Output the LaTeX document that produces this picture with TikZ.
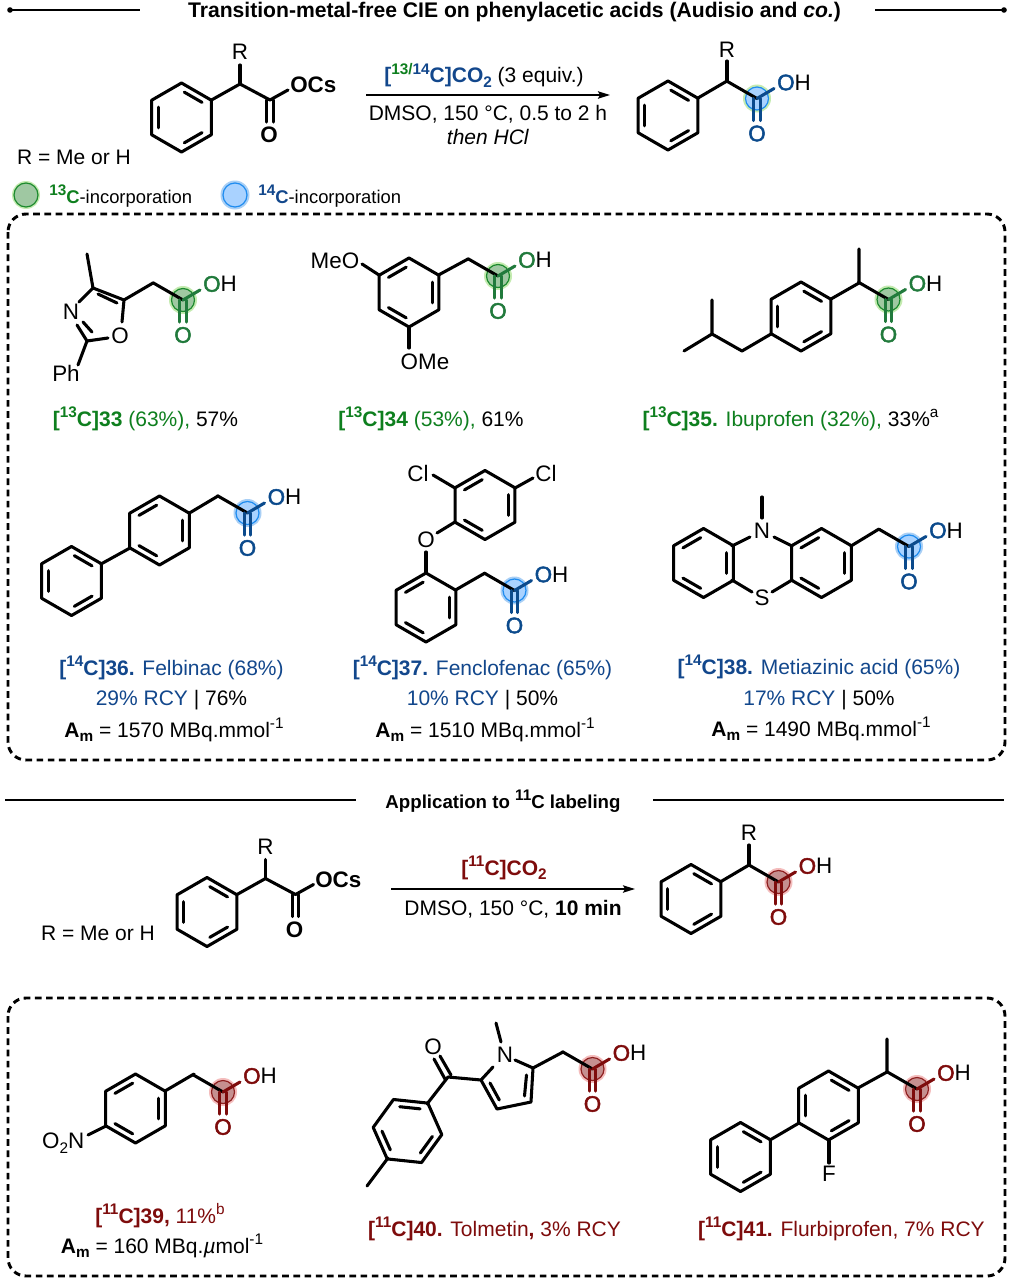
\documentclass[tikz,border=0pt]{standalone}
\usepackage{fontspec}
\setmainfont{Liberation Sans}
\newfontfamily\semib[FakeBold=2.2]{Liberation Sans}
\usetikzlibrary{arrows.meta}
\definecolor{atomG}{HTML}{217A3C}
\definecolor{atomB}{HTML}{0B4A8C}
\definecolor{atomR}{HTML}{7E0C0C}
\definecolor{haloG}{HTML}{C4EBB0}
\definecolor{haloB}{HTML}{A9CFF5}
\definecolor{haloR}{HTML}{F4BDBD}
\definecolor{fillG}{HTML}{9FC8A2}
\definecolor{fillB}{HTML}{A9D2FF}
\definecolor{fillR}{HTML}{C59090}
\definecolor{edgeG}{HTML}{1C8A2E}
\definecolor{edgeB}{HTML}{1E8CF0}
\definecolor{edgeR}{HTML}{8E2020}
\definecolor{textG}{HTML}{0E7F1E}
\definecolor{textB}{HTML}{12478C}
\definecolor{textR}{HTML}{7E0C0C}
\newcommand\up[1]{\raisebox{.42em}{\fontsize{11.5}{12}\selectfont #1}}
\newcommand\dn[1]{\raisebox{-.2em}{\fontsize{11.5}{12}\selectfont #1}}
\tikzset{
  bond/.style={line width=2.3pt,line cap=round,line join=round},
  atom/.style={inner sep=0pt,font=\fontsize{16.8}{18}\selectfont},
  atomb/.style={inner sep=0pt,font=\fontsize{16.8}{18}\selectfont\bfseries},
  txt/.style={inner sep=0pt,anchor=base,font=\fontsize{15.75}{18}\selectfont},
  head/.style={inner sep=0pt,anchor=base,font=\fontsize{15.85}{18}\selectfont\bfseries},
  rule/.style={line width=2.2pt},
  dashbox/.style={line width=2.2pt,dash pattern=on 5pt off 3.4pt,rounded corners=13.5pt},
  rxn/.style={line width=1.3pt,-{Stealth[length=9pt,width=5.5pt,inset=1.5pt]}}
}
% ring: [rotation] centre x, y, start angles of the edges with an inner line
\newcommand\ring[4][0]{%
  \draw[bond] ({#2+34.5*cos(#1+30)},{#3+34.5*sin(#1+30)})
    foreach \k in {90,150,210,270,330} { -- ({#2+34.5*cos(#1+\k)},{#3+34.5*sin(#1+\k)}) } -- cycle;
  \foreach \a in {#4}
    \draw[bond] ({#2+25.5*cos(\a+6.3)},{#3+25.5*sin(\a+6.3)}) -- ({#2+25.5*cos(\a+53.7)},{#3+25.5*sin(\a+53.7)});
}
% acid group: [halo colour] name, carboxyl C x, y, colour key
\newcommand\acid[5][]{%
  \ifx\relax#1\relax\def\halocol{halo#5}\else\def\halocol{#1}\fi
  \fill[\halocol] (#3,#4) circle[radius=14];
  \draw[fill=fill#5,draw=edge#5,line width=.9pt] (#3,#4) circle[radius=11.5];
  \draw[bond] (#3-30,#4-17.25) -- (#3,#4);
  \draw[bond,atom#5] (#3,#4) -- (#3+17,#4-10);
  \draw[bond,atom#5] (#3-3.2,#4) -- (#3-3.2,#4+22);
  \draw[bond,atom#5] (#3+3.2,#4) -- (#3+3.2,#4+22);
  \node[atom,text=atom#5] (#2o) at (#3,#4+35) {\semib O};
  \node[atom,anchor=center] (#2oh) at (#3+37,#4-16) {\textcolor{atom#5}{\semib O}H};
}
\begin{document}
\begin{tikzpicture}[x=0.75pt,y=-0.75pt]
\useasboundingbox (0,0) rectangle (1014,1281);
\fill[white] (0,0) rectangle (1014,1281);
% headings
\draw[rule] (10,10) -- (140,10);
\fill (10,10) circle[radius=2.8];
\draw[rule] (875,10) -- (1004,10);
\fill (1004,10) circle[radius=2.8];
\node[head] (title) at (514.5,17.5) {Transition-metal-free CIE on phenylacetic acids (Audisio and \textit{co.})};
\draw[rule] (5,800) -- (356,800);
\draw[rule] (653,800) -- (1004,800);
\node[head,font=\fontsize{14}{16}\selectfont\bfseries] (title2) at (503,808) {Application to \up{11}C labeling};
% boxes
\draw[dashbox] (8,214) rectangle (1005,760);
\draw[dashbox] (8,998) rectangle (1005,1276);
% reaction 1
\ring{181.5}{117.5}{-90,150,30}
\draw[bond] (211.5,100) -- (240,84) -- (270,100) -- (288,90);
\draw[bond] (240,84) -- (240,65);
\draw[bond] (266.7,100) -- (266.7,122);
\draw[bond] (273.3,100) -- (273.3,122);
\node[atom] (r1) at (240,52) {R};
\node[atomb] (o1) at (269,135) {O};
\node[atomb,anchor=west] (ocs1) at (290,85) {OCs};
\node[txt] (rme1) at (74,164) {R = Me or H};
\draw[rxn] (366,95) -- (610,95);
\node[txt] (cond1a) at (484,83) {\textbf{\textcolor{textB}{[}\textcolor{textG}{\up{13/}}\textcolor{textB}{\up{14}C]CO\dn{2}}} (3 equiv.)};
\node[txt] (cond1b) at (488,120) {DMSO, 150 °C, 0.5 to 2 h};
\node[txt] (cond1c) at (488,144) {\textit{then HCl}};
\ring{668}{115.5}{-90,150,30}
\draw[bond] (698,98) -- (727,81);
\draw[bond] (727,81) -- (727,61);
\node[atom] (r2) at (727,50) {R};
\acid[haloG]{p1}{757}{98.5}{B}
% legend
\fill[haloG] (26,195) circle[radius=14];
\draw[fill=fillG,draw=edgeG,line width=.9pt] (26,195) circle[radius=12];
\fill[haloB] (235,195) circle[radius=14.5];
\draw[fill=fillB,draw=edgeB,line width=.9pt] (235,195) circle[radius=12];
\node[txt,anchor=base west,font=\fontsize{13.8}{16}\selectfont] (leg1) at (49,203) {\textbf{\textcolor{textG}{\up{13}C}}-incorporation};
\node[txt,anchor=base west,font=\fontsize{13.8}{16}\selectfont] (leg2) at (258,203) {\textbf{\textcolor{textB}{\up{14}C}}-incorporation};
% 33
\draw[bond] (124,300) -- (93,288) -- (79,302);
\draw[bond] (98,294) -- (117,303);
\draw[bond] (77,325) -- (87,341) -- (108,338);
\draw[bond] (83,322) -- (92,332);
\draw[bond] (122,322) -- (124,300) -- (153,283);
\draw[bond] (93,288) -- (87,254);
\draw[bond] (87,341) -- (78,365);
\node[atom] (n33) at (71,312) {N};
\node[atom] (o33) at (120,336) {O};
\node[atom] (ph33) at (66,373) {Ph};
\acid{a33}{183}{300}{G}
\node[txt] (l33) at (145.5,426.5) {\textcolor{textG}{\textbf{[\up{13}C]33} (63\%),} 57\%};
% 34
\ring{409}{292.5}{210,-30,90}
\draw[bond] (379,275) -- (362,264);
\draw[bond] (409,327) -- (409,348);
\draw[bond] (438.5,275) -- (468,259);
\node[atom,anchor=east] (meo34) at (359.5,261) {MeO};
\node[atom] (ome34) at (425,362) {OMe};
\acid{a34}{498}{276}{G}
\node[txt] (l34) at (431,426.5) {\textcolor{textG}{\textbf{[\up{13}C]34} (53\%),} 61\%};
% 35
\ring{801}{316.5}{-90,150,30}
\draw[bond] (831,299) -- (859,283) -- (859,249);
\draw[bond] (771,334) -- (742,351) -- (712,334) -- (712,300);
\draw[bond] (712,334) -- (684,351);
\acid{a35}{888.5}{299.5}{G}
\node[txt] (l35) at (790.5,426.5) {\textcolor{textG}{\textbf{[\up{13}C]35.} Ibuprofen (32\%),} 33\%\up{a}};
% 36
\ring{71.5}{581}{-90,150,30}
\ring{159.5}{530.5}{210,-30,90}
\draw[bond] (101,564) -- (130,548);
\draw[bond] (189.5,513) -- (218,496);
\acid{a36}{247.5}{513}{B}
\node[txt] (l36a) at (171.5,675.5) {\textcolor{textB}{\textbf{[\up{14}C]36.} Felbinac (68\%)}};
\node[txt] (l36b) at (171.5,705.5) {\textcolor{textB}{29\% RCY} | 76\%};
\node[txt] (l36c) at (174,737) {\textbf{A\dn{m}} = 1570 MBq.mmol\up{-1}};
% 37
\ring{485}{505}{210,-30,90}
\ring{426}{607.5}{210,-30,90}
\draw[bond] (455,488) -- (433,475);
\draw[bond] (515,488) -- (533,478);
\draw[bond] (455,522) -- (437,533);
\draw[bond] (426,552) -- (426,573);
\draw[bond] (455.5,590) -- (485,573);
\node[atom] (cl37a) at (418,473) {Cl};
\node[atom] (cl37b) at (546,473) {Cl};
\node[atom] (o37) at (426,540) {O};
\acid{a37}{514.5}{590.5}{B}
\node[txt] (l37a) at (482.5,675.5) {\textcolor{textB}{\textbf{[\up{14}C]37.} Fenclofenac (65\%)}};
\node[txt] (l37b) at (482.5,705.5) {\textcolor{textB}{10\% RCY} | 50\%};
\node[txt] (l37c) at (485,737) {\textbf{A\dn{m}} = 1510 MBq.mmol\up{-1}};
% 38
\ring{703.5}{563}{210,-30,90}
\ring{821.5}{563}{210,-30,90}
\draw[bond] (762,497) -- (762,518);
\draw[bond] (732,546) -- (750,537);
\draw[bond] (774,537) -- (792,546);
\draw[bond] (732,580) -- (752,592);
\draw[bond] (772,592) -- (792,580);
\draw[bond] (851,546) -- (879,529);
\node[atom] (n38) at (762,531) {N};
\node[atom] (s38) at (762,598) {S};
\acid{a38}{909}{546.5}{B}
\node[txt] (l38a) at (819,674) {\textcolor{textB}{\textbf{[\up{14}C]38.} Metiazinic acid (65\%)}};
\node[txt] (l38b) at (819,705) {\textcolor{textB}{17\% RCY} | 50\%};
\node[txt] (l38c) at (821,736) {\textbf{A\dn{m}} = 1490 MBq.mmol\up{-1}};
% reaction 2
\ring{207}{912}{-90,150,30}
\draw[bond] (237,894.5) -- (265.5,878.5) -- (295.5,894.5) -- (313.5,884.5);
\draw[bond] (265.5,878.5) -- (265.5,859.5);
\draw[bond] (292.2,894.5) -- (292.2,916.5);
\draw[bond] (298.8,894.5) -- (298.8,916.5);
\node[atom] (r3) at (265.5,846.5) {R};
\node[atomb] (o3) at (294.5,929.5) {O};
\node[atomb,anchor=west] (ocs3) at (315,879.5) {OCs};
\node[txt] (rme3) at (98,940) {R = Me or H};
\draw[rxn] (391,889) -- (635,889);
\node[txt] (cond2a) at (504,875) {\textbf{\textcolor{textR}{[\up{11}C]CO\dn{2}}}};
\node[txt] (cond2b) at (513,915) {DMSO, 150 °C, \textbf{10 min}};
\ring{691}{899}{-90,150,30}
\draw[bond] (721,881.5) -- (749,865);
\draw[bond] (749,865) -- (749,845);
\node[atom] (r4) at (749,833) {R};
\acid{p2}{778.5}{882}{R}
% 39
\ring{135.5}{1108.5}{210,-30,90}
\draw[bond] (106,1126) -- (88,1135);
\draw[bond] (165,1091) -- (194,1074);
\node[atom,anchor=east] (no39) at (84.5,1143) {O\dn{2}N};
\acid{a39}{223}{1092}{R}
\node[txt] (l39a) at (160,1223) {\textcolor{textR}{\textbf{[\up{11}C]39,} 11\%\up{b}}};
\node[txt] (l39b) at (162,1253) {\textbf{A\dn{m}} = 160 MBq.\textit{µ}mol\up{-1}};
% 40
\ring[-24]{407.5}{1131}{-114,6,126}
\draw[bond] (388,1158) -- (367,1186);
\draw[bond] (427,1104) -- (448,1077) -- (481,1080) -- (497,1109) -- (531,1102) -- (533,1068);
\draw[bond] (445,1079) -- (434,1059);
\draw[bond] (451,1075) -- (440,1056);
\draw[bond] (490,1083) -- (499.3,1100);
\draw[bond] (526.5,1075) -- (524.5,1096);
\draw[bond] (481,1080) -- (493,1067);
\draw[bond] (515,1060) -- (533,1068) -- (563,1052);
\draw[bond] (496,1023) -- (501,1042);
\node[atom] (o40) at (433,1047) {O};
\node[atom] (n40) at (505,1055) {N};
\acid{a40}{592.5}{1069}{R}
\node[txt] (l40) at (494.5,1236) {\textcolor{textR}{\textbf{[\up{11}C]40.} Tolmetin\textbf{,} 3\% RCY}};
% 41
\ring{740.5}{1157}{-90,150,30}
\ring{828.5}{1105.5}{-90,150,30}
\draw[bond] (770,1140) -- (799,1123);
\draw[bond] (829,1140) -- (829,1163);
\draw[bond] (858,1088) -- (887,1072) -- (887,1039);
\node[atom] (f41) at (829,1174) {F};
\acid{a41}{917}{1089}{R}
\node[txt] (l41) at (841.5,1236) {\textcolor{textR}{\textbf{[\up{11}C]41.} Flurbiprofen, 7\% RCY}};
\end{tikzpicture}
\end{document}
